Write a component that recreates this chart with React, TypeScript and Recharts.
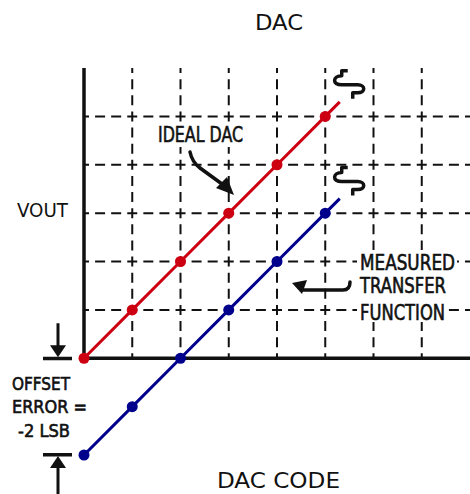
import React from "react";
import { LineChart, Line, XAxis, YAxis, ReferenceLine, ReferenceDot } from "recharts";

// DAC transfer function with a -2 LSB offset error
const idealCodes = [0, 1, 2, 3, 4, 5, 5.3];
const idealOut = [0, 1, 2, 3, 4, 5, 5.3];
const measuredCodes = [0, 1, 2, 3, 4, 5, 5.3];
const measuredOut = [-2, -1, 0, 1, 2, 3, 3.3];

const gridCodes = [1, 2, 3, 4, 5, 6, 7];
const gridLevels = [1, 2, 3, 4, 5];

const RED = "#cc0011";
const BLUE = "#00008c";
const INK = "#111";
const FONT = "'Liberation Sans Narrow', 'DejaVu Sans Condensed', 'Liberation Sans', sans-serif";

const ideal = idealCodes.map((c, i) => ({ code: c, out: idealOut[i] }));
const measured = measuredCodes.map((c, i) => ({ code: c, out: measuredOut[i] }));

const dotFor = (color: string, count: number) => (p: any) =>
  p.index === count - 1 ? (
    <g key={`d${p.index}`} />
  ) : (
    <circle key={`d${p.index}`} cx={p.cx} cy={p.cy} r={5.5} fill={color} />
  );

// line-break squiggle drawn just past the end of each series
const Squiggle = ({ cx, cy }: any) => {
  const p = (dx: number, dy: number) => `${cx + dx} ${cy + dy}`;
  return (
    <path
      d={`M${p(8, -31)} L${p(2, -31)} L${p(2, -26)} C${p(-7, -26)} ${p(-8, -17)} ${p(2, -17)} L${p(18, -17)} C${p(26, -17)} ${p(26, -9)} ${p(18, -9)} L${p(13, -9)} L${p(13, -3)}`}
      fill="none"
      stroke={INK}
      strokeWidth={3.5}
      strokeLinejoin="round"
    />
  );
};

// offset error bracket: arrow down onto the ideal zero, arrow up onto the measured zero
const OffsetTop = ({ cx, cy }: any) => {
  const x = cx - 26;
  return (
    <g>
      <rect x={cx - 41} y={cy - 1.5} width={29} height={3.5} fill={INK} />
      <rect x={x - 1.5} y={cy - 35} width={3} height={24} fill={INK} />
      <path d={`M${x - 8} ${cy - 13} L${x + 8} ${cy - 13} L${x} ${cy - 1}`} fill={INK} />
    </g>
  );
};

const OffsetBottom = ({ cx, cy }: any) => {
  const x = cx - 26;
  return (
    <g>
      <rect x={cx - 41} y={cy - 2} width={29} height={3.5} fill={INK} />
      <rect x={x - 1.5} y={cy + 10} width={3} height={40} fill={INK} />
      <path d={`M${x - 8} ${cy + 13} L${x + 8} ${cy + 13} L${x} ${cy + 1}`} fill={INK} />
    </g>
  );
};

// dashes centred on every third of a grid cell, so crossings read as "+"
const hDash = { stroke: INK, strokeWidth: 2, strokeDasharray: "5 6.083 5 0" };
const vDash = { stroke: INK, strokeWidth: 2, strokeDasharray: "5 6.125 5 0" };

export default function App() {
  const last = idealCodes.length - 1;
  return (
    <div style={{ position: "absolute", left: 0, top: 0, width: 470, height: 494, background: "#fff" }}>
      <LineChart width={470} height={494} margin={{ top: 68, right: 0, bottom: 39, left: 84 }}>
        <XAxis type="number" dataKey="code" domain={[0, 8]} hide />
        <YAxis type="number" dataKey="out" domain={[-2, 6]} hide />
        {gridLevels.map((v) => (
          <ReferenceLine key={`h${v}`} segment={[{ x: 0, y: v }, { x: 8, y: v }]} {...hDash} />
        ))}
        {gridCodes.map((c) => (
          <ReferenceLine key={`v${c}`} segment={[{ x: c, y: 0 }, { x: c, y: 6 }]} {...vDash} />
        ))}
        <ReferenceLine segment={[{ x: 0, y: 0 }, { x: 8, y: 0 }]} stroke={INK} strokeWidth={3.5} />
        <ReferenceLine segment={[{ x: 0, y: 0 }, { x: 0, y: 6 }]} stroke={INK} strokeWidth={3.5} />
        <Line
          data={ideal}
          dataKey="out"
          type="linear"
          stroke={RED}
          strokeWidth={3}
          dot={dotFor(RED, ideal.length)}
          activeDot={false}
          isAnimationActive={false}
        />
        <Line
          data={measured}
          dataKey="out"
          type="linear"
          stroke={BLUE}
          strokeWidth={3}
          dot={dotFor(BLUE, measured.length)}
          activeDot={false}
          isAnimationActive={false}
        />
        <ReferenceDot x={idealCodes[last]} y={idealOut[last]} shape={(p: any) => <Squiggle {...p} />} />
        <ReferenceDot x={measuredCodes[last]} y={measuredOut[last]} shape={(p: any) => <Squiggle {...p} />} />
        <ReferenceDot x={idealCodes[0]} y={idealOut[0]} shape={(p: any) => <OffsetTop {...p} />} />
        <ReferenceDot x={measuredCodes[0]} y={measuredOut[0]} shape={(p: any) => <OffsetBottom {...p} />} />
      </LineChart>
      <svg width={470} height={494} style={{ position: "absolute", left: 0, top: 0, pointerEvents: "none" }}>
        <g fontFamily={FONT} fill={INK}>
          <text x={255} y={29.5} fontSize={21} textLength={48} lengthAdjust="spacingAndGlyphs">DAC</text>
          <text x={17} y={216.5} fontSize={20} textLength={51} lengthAdjust="spacingAndGlyphs">VOUT</text>
          <text x={217} y={488} fontSize={21} textLength={123} lengthAdjust="spacingAndGlyphs">DAC CODE</text>

          <rect x={155} y={122} width={92} height={25} fill="#fff" />
          <rect x={357} y={250} width={100} height={23} fill="#fff" />
          <rect x={357} y={273} width={92} height={24} fill="#fff" />
          <rect x={357} y={297} width={91} height={25} fill="#fff" />

          <g stroke={INK} strokeWidth={0.6}>
            <text x={158} y={141.5} fontSize={21} textLength={85} lengthAdjust="spacingAndGlyphs">IDEAL DAC</text>
            <text x={360} y={269.5} fontSize={21} textLength={95} lengthAdjust="spacingAndGlyphs">MEASURED</text>
            <text x={360} y={293} fontSize={21} textLength={86} lengthAdjust="spacingAndGlyphs">TRANSFER</text>
            <text x={360} y={319.5} fontSize={21} textLength={85} lengthAdjust="spacingAndGlyphs">FUNCTION</text>
            <text x={12} y={390} fontSize={18} textLength={58} lengthAdjust="spacingAndGlyphs">OFFSET</text>
            <text x={12} y={413} fontSize={18} textLength={75} lengthAdjust="spacingAndGlyphs">ERROR =</text>
            <text x={18} y={436.5} fontSize={18} textLength={52} lengthAdjust="spacingAndGlyphs">-2 LSB</text>
          </g>
        </g>
        {/* pointer arrows for the two series labels */}
        <g stroke={INK} strokeWidth={3.5} fill="none" strokeLinecap="round">
          <path d="M190 152 Q192 162 200 168 L222 184" />
          <path d="M350 282 Q350 290 343 290 L303 290" />
        </g>
        <g fill={INK}>
          <path d="M234 195 L216 188 L227 177 Z" />
          <path d="M292 283 L307 280 L302 294 Z" />
        </g>
      </svg>
    </div>
  );
}
